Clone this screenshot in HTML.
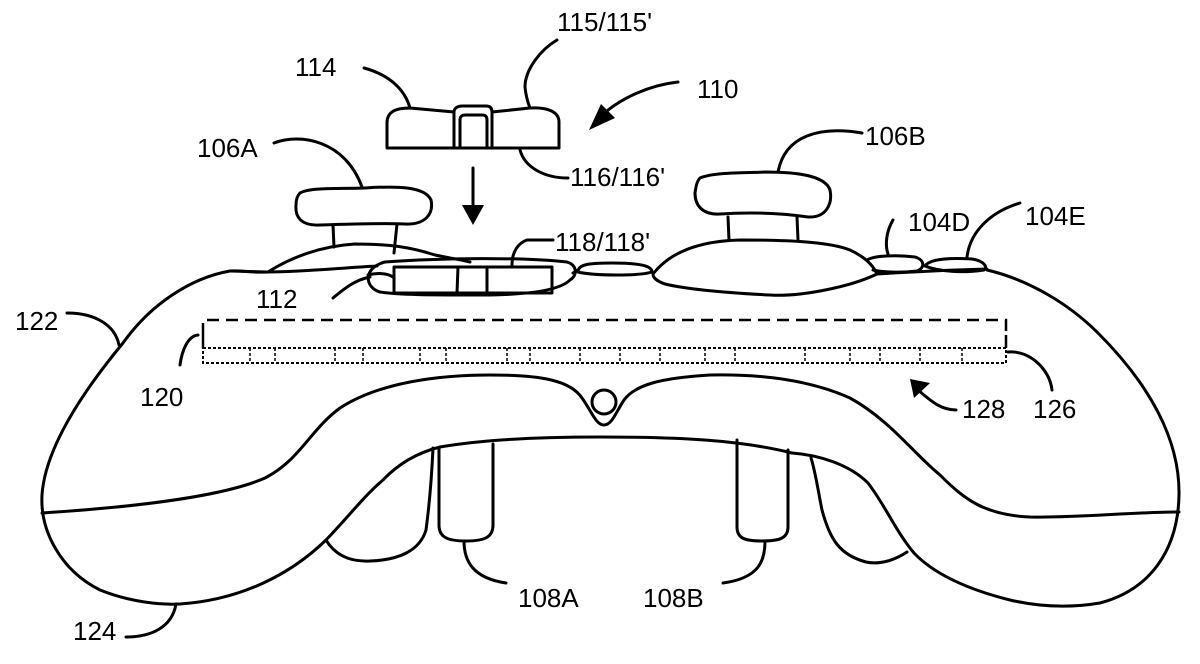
<!DOCTYPE html>
<html><head><style>
html,body{margin:0;padding:0;background:#fff;}
svg{display:block}
text{font-family:"Liberation Sans",Arial,sans-serif;font-size:26px;fill:#000}
</style></head><body>
<svg width="1200" height="664" viewBox="0 0 1200 664" xmlns="http://www.w3.org/2000/svg">
<g fill="none" stroke="#000" stroke-width="3" stroke-linejoin="round" stroke-linecap="round">
<!-- outer body -->
<path d="M268,272 C250,273 240,270 230,271 C190,278 150,305 123,343 C80,395 45,450 42,495 C40,530 60,570 100,590 C130,602 160,605 180,604 C240,600 290,575 326,540 C350,515 365,495 383,480 C400,462 420,452 440,447"/>
<path d="M987,270 C1030,280 1070,305 1098,333 C1150,385 1180,440 1179,495 C1178,550 1150,590 1100,603 C1070,608 1040,607 1010,600 C970,590 935,575 914,553 C895,530 885,505 868,483 C850,465 820,455 792,453"/>
<!-- grip top -->
<path d="M440,447 C480,440 540,437 600,437 C680,437 740,440 792,453"/>
<!-- band/inner contour -->
<path d="M42,513 C120,508 220,498 265,478 C300,460 310,430 340,408 C380,382 440,375 490,375 C540,375 570,380 582,398 C592,412 596,425 604,425 C612,425 616,412 624,400 C635,385 660,378 710,375 C760,374 810,380 850,398 C890,420 915,455 940,475 C965,500 985,515 1030,517 C1080,518 1130,512 1179,512"/>
<!-- small lobes -->
<path d="M326,540 C335,555 350,562 370,561 C400,560 420,550 426,530 C430,500 432,470 433,448"/>
<path d="M907,552 C895,560 880,565 866,562 C840,555 830,540 822,510 C818,490 815,470 811,458"/>
<!-- hole -->
<circle cx="604" cy="402" r="12"/>
<!-- triggers -->
<path d="M439,448 L439,525 C439,537 447,541 466,541 C485,541 493,537 493,525 L493,444"/>
<path d="M737,440 L737,527 C737,538 744,541 762,541 C780,541 788,538 788,527 L788,450"/>
<!-- thumbstick A -->
<path d="M300,193 C310,187 340,189 365,188 C395,186 425,186 431,200 C434,214 425,225 405,224 C385,223 350,224 320,225 C300,226 295,216 296,205 C296,198 298,195 300,193Z"/>
<path d="M333,225 L334,247 M397,224 L394,253"/>
<path d="M230,271 L268,272 C290,258 320,246 355,244 C390,244 410,247 435,255 C450,258 462,260 470,262"/>
<path d="M268,272 C300,272 340,268 377,266"/>
<!-- thumbstick B -->
<path d="M700,178 C715,172 745,173 765,172 C795,172 825,175 830,190 C833,205 825,218 808,217 C780,213 750,212 720,214 C702,215 695,205 695,193 C696,186 697,181 700,178Z"/>
<path d="M728,217 L729,240 M797,217 L798,240"/>
<path d="M653,274 C670,252 700,241 740,240 C790,240 830,242 850,250 C865,257 873,265 877,274 C850,287 800,297 770,295 C730,293 690,290 665,284 C656,281 653,277 653,274Z"/>
<!-- 114 part -->
<path d="M454,112 L410,108 C395,108 387,112 387,123 L387,148 L559,148 L559,122 C559,112 548,107 530,108 L492,112"/>
<path d="M454,148 L454,112 C454,108 458,106 462,106 L486,106 C490,106 492,108 492,112 L492,148"/>
<path d="M460,148 L460,120 C460,116 462,115 466,115 L482,115 C485,115 487,116 487,120 L487,148"/>
<!-- arrow -->
<path d="M473,168 L473,208"/>
<!-- slot 112 -->
<path d="M385,262 C440,258 520,257 567,262 C577,265 578,275 570,280 C560,290 530,295 480,295 C430,295 400,295 380,292 C365,288 362,268 385,262Z"/>
<rect x="394" y="267" width="158" height="26"/>
<path d="M458,267 L457,293 M487,267 L487,293"/>
<path d="M368,275 C380,272 390,274 394,278"/>
<!-- small buttons -->
<path d="M578,272 C578,264 590,263 612,263 C640,263 652,266 652,272 C640,276 595,276 578,272Z"/>
<path d="M867,260 C875,255 900,255 915,257 C925,260 925,268 917,271 C900,273 880,272 873,270"/>
<path d="M925,266 C930,258 955,258 972,259 C985,261 988,268 984,270 C965,273 940,272 925,266Z"/>
<path d="M877,274 C910,272 950,270 987,269"/>
<path d="M573,273 L578,270"/>
<!-- leaders -->
<path d="M364,68 C390,75 405,90 410,108"/>
<path d="M557,40 C540,50 525,70 525,87 C526,97 528,103 530,108"/>
<path d="M678,82 C650,85 620,98 600,117"/>
<path d="M520,150 C525,168 545,178 568,178"/>
<path d="M274,143 C300,133 345,140 362,187"/>
<path d="M862,133 C820,126 785,135 778,172"/>
<path d="M893,220 C886,232 885,245 888,254"/>
<path d="M1020,203 C990,212 970,232 967,257"/>
<path d="M553,240 L527,240 C518,243 512,252 512,265"/>
<path d="M333,298 C345,288 355,280 370,277"/>
<path d="M67,313 C95,313 115,325 119,345"/>
<path d="M180,365 C182,350 188,336 198,335"/>
<path d="M1008,352 C1030,350 1050,370 1052,390"/>
<path d="M956,410 C940,410 930,400 918,390"/>
<path d="M464,541 C464,560 472,578 506,583"/>
<path d="M765,541 C765,560 760,578 723,583"/>
<path d="M126,637 C150,637 172,628 176,604"/>
</g>
<g fill="#000">
<polygon points="462,205 484,205 473,225"/>
<polygon points="589,130 615,118 601,104"/>
<polygon points="910,379 930,383 914,398"/>
</g>
<!-- bars -->
<path d="M203,335 L203,320 L1006,320 L1006,335" fill="none" stroke="#000" stroke-width="2.5" stroke-dasharray="12,7"/>
<path d="M203,335 L203,348 M1006,335 L1006,348" fill="none" stroke="#000" stroke-width="2.5"/>
<rect x="203" y="348" width="803" height="15" fill="none" stroke="#000" stroke-width="2" stroke-dasharray="3,2"/>
<path d="M250,348v15 M275,348v15 M335,348v15 M363,348v15 M420,348v15 M446,348v15 M507,348v15 M530,348v15 M580,348v15 M620,348v15 M660,348v15 M705,348v15 M735,348v15 M805,348v15 M850,348v15 M880,348v15 M920,348v15 M962,348v15" stroke="#000" stroke-width="1.5" stroke-dasharray="3,2"/>
<text x="295" y="76">114</text>
<text x="557" y="31">115/115'</text>
<text x="697" y="98">110</text>
<text x="197" y="157">106A</text>
<text x="865" y="145">106B</text>
<text x="570" y="186">116/116'</text>
<text x="555" y="251">118/118'</text>
<text x="908" y="231">104D</text>
<text x="1025" y="225">104E</text>
<text x="256" y="308">112</text>
<text x="15" y="330">122</text>
<text x="140" y="406">120</text>
<text x="962" y="418">128</text>
<text x="1033" y="418">126</text>
<text x="518" y="607">108A</text>
<text x="643" y="607">108B</text>
<text x="73" y="640">124</text>
</svg>
</body></html>
